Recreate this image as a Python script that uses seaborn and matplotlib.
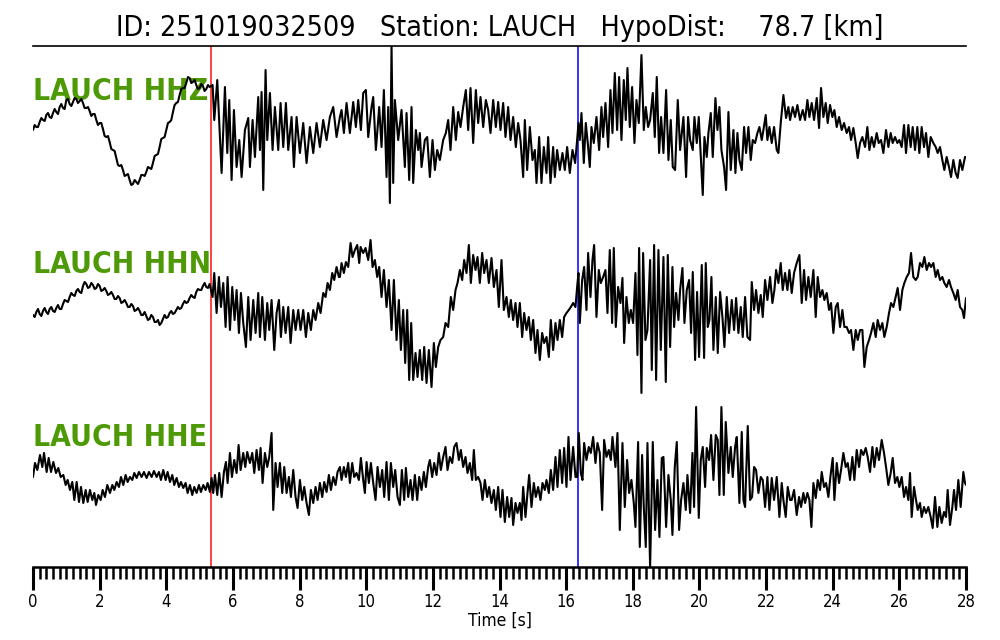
import matplotlib
matplotlib.use('Agg')
import numpy as np
import pandas as pd
import matplotlib.pyplot as plt
import seaborn as sns
from matplotlib.ticker import MultipleLocator

# ---------------------------------------------------------------
# data: (time [s], amplitude [arb. units])
# ---------------------------------------------------------------
event_id = '251019032509'
station = 'LAUCH'
hypo_dist = 78.7
p_pick = 5.34     # red pick
s_pick = 16.35    # blue pick
channels = ['HHZ', 'HHN', 'HHE']

hhz = [(0.0,0),(0.1,3),(0.2,8),(0.3,10),(0.4,15),(0.5,13),(0.6,17),(0.7,18),(0.8,23),(0.9,22),
       (1.0,30),(1.1,26),(1.2,28),(1.3,31),(1.4,29),(1.5,27),(1.6,22),(1.7,19),(1.8,16),(1.9,10),
       (2.0,7),(2.1,1),(2.2,-7),(2.3,-12),(2.4,-20),(2.5,-28),(2.6,-36),(2.7,-40),(2.8,-45),(2.9,-50),
       (3.0,-54),(3.1,-52),(3.2,-50),(3.3,-45),(3.4,-42),(3.5,-38),(3.6,-33),(3.7,-25),(3.8,-17),(3.9,-8),
       (4.0,0),(4.1,8),(4.2,18),(4.3,27),(4.4,35),(4.5,42),(4.6,47),(4.7,52),(4.8,48),(4.9,45),
       (5.0,42),(5.1,44),(5.2,41),(5.3,43),
       (5.39,45),(5.44,10),(5.53,50),(5.66,-43),(5.76,43),(5.83,-23),(5.89,30),(5.96,-50),(6.03,20),
       (6.11,-37),(6.19,-10),(6.26,-47),(6.36,0),(6.46,12),(6.51,-37),(6.59,10),(6.66,-27),(6.76,33),
       (6.81,-20),(6.86,38),(6.91,-60),(6.98,60),(7.03,-10),(7.11,37),(7.19,-20),(7.26,23),(7.36,-20),
       (7.43,27),(7.51,-17),(7.59,27),(7.66,-20),(7.76,13),(7.83,-37),(7.91,13),(8.01,-23),(8.11,7),
       (8.21,-33),(8.31,3),(8.41,-23),(8.51,7),(8.61,-17),(8.71,10),(8.81,-10),(8.91,13),(9.01,23),
       (9.11,-7),(9.21,13),
       (9.26,20),(9.33,-3),(9.41,27),(9.51,-3),(9.61,28),(9.69,3),(9.76,30),(9.84,0),(9.91,37),(9.99,40),
       (10.06,-7),(10.16,23),(10.21,33),(10.29,-20),(10.39,23),(10.46,-17),(10.53,40),(10.61,-47),
       (10.66,23),(10.71,-73),(10.76,85),(10.81,-53),(10.86,30),(10.91,10),(10.96,-10),(11.06,20),
       (11.16,-37),(11.21,17),(11.29,-50),(11.36,23),(11.41,-53),(11.49,0),(11.56,-20),(11.61,-3),
       (11.66,-37),(11.76,-10),(11.83,-7),(11.91,-47),(11.99,-10),(12.06,-40),(12.13,-20),(12.21,-30),
       (12.31,-10),(12.39,-3),(12.46,10),(12.53,-20),(12.61,23),(12.69,-10),(12.76,18),(12.83,3),
       (12.91,23),(12.99,40),(13.06,0),(13.13,42),(13.21,-13),(13.29,40),(13.36,7),(13.43,33),(13.51,3),
       (13.59,30),(13.66,20),(13.73,-3),(13.81,30),(13.89,3),(13.96,28),(14.03,0),(14.11,27),(14.18,-7),
       (14.26,23),(14.33,-10),(14.41,13),(14.49,-17),(14.56,7),(14.63,-10),(14.71,-47),(14.76,10),
       (14.83,-40),(14.91,3),(14.99,-30),(15.06,-20),(15.11,-53),(15.19,-7),(15.26,-53),(15.33,-17),
       (15.41,-43),(15.46,-7),(15.53,-53),(15.61,-17),(15.66,-47),(15.73,-20),(15.81,-40),(15.89,-23),
       (15.96,-40),(16.03,-17),(16.11,-43),(16.19,-20),(16.27,-33),(16.33,-10),(16.37,7),(16.41,-10),
       (16.46,17),(16.53,-33),(16.59,7),(16.66,-17),(16.71,-37),(16.76,3),(16.83,-13),(16.91,13),
       (16.99,-20),(17.06,23),(17.11,-7),(17.18,27),(17.26,-17),(17.33,40),(17.39,-3),(17.46,57),
       (17.53,0),(17.59,53),(17.66,-10),(17.73,50),(17.79,10),(17.84,62),(17.91,3),(17.98,43),(18.05,-13),
       (18.11,30),(18.18,7),(18.26,75),(18.33,0),(18.39,23),(18.46,3),
       (18.52,10),(18.60,37),(18.66,-7),(18.72,53),(18.79,-23),(18.85,13),(18.92,-23),(19.00,40),
       (19.07,-30),(19.14,10),(19.20,-37),(19.27,-40),(19.35,30),(19.42,-20),(19.47,-3),(19.52,13),
       (19.60,-47),(19.66,13),(19.72,-10),(19.80,-20),(19.85,13),(19.92,-13),(19.98,13),(20.05,-33),
       (20.10,-65),(20.15,-7),(20.22,-27),(20.27,-3),(20.34,17),(20.40,-27),(20.48,32),(20.54,0),
       (20.60,23),(20.66,-20),(20.74,-37),(20.80,-60),(20.87,18),(20.94,-40),(21.02,0),(21.08,-43),
       (21.14,-3),(21.20,-30),(21.27,-40),(21.34,3),(21.40,-23),(21.47,3),(21.54,-30),(21.60,-10),
       (21.67,-13),(21.74,-3),(21.80,3),(21.87,-10),(21.92,0),(21.99,15),(22.04,-10),(22.10,3),
       (22.17,-13),(22.24,3),(22.32,-20),(22.37,-23),(22.44,7),(22.52,35),(22.60,12),(22.67,23),
       (22.72,10),(22.80,23),(22.87,13),(22.94,25),(23.02,10),(23.10,20),(23.17,10),(23.24,30),
       (23.30,13),(23.37,27),(23.44,10),(23.52,32),(23.59,2),(23.65,42),(23.72,13),(23.79,27),(23.85,7),
       (23.92,25),(23.99,13),(24.05,20),(24.12,3),(24.19,13),(24.27,0),(24.34,7),(24.42,-3),(24.49,3),
       (24.55,-10),(24.62,2),(24.69,-13),(24.75,-28),(24.82,-13),(24.89,-7),(24.97,-17),(25.04,3),
       (25.10,-20),(25.17,-7),(25.24,-17),(25.32,-3),(25.38,-13),(25.45,-10),(25.52,-23),(25.60,0),
       (25.67,-17),(25.74,-3),(25.80,-13),(25.87,-7),(25.94,-13),(26.00,-10),(26.07,-17),(26.14,5),
       (26.20,-23),(26.27,5),(26.34,-17),(26.40,3),(26.47,-20),(26.54,3),(26.60,-23),(26.67,3),
       (26.74,-17),(26.80,-3),(26.87,-27),(26.94,-7),(27.02,-13),(27.09,-17),(27.15,-23),(27.22,-17),
       (27.29,-30),(27.35,-40),(27.42,-27),(27.49,-37),(27.55,-47),(27.62,-30),(27.69,-43),(27.75,-48),
       (27.82,-30),(27.89,-40),(27.97,-27),(28.0,-27)]

# finer wiggles on the quiet part before the first pick
hhz_fine = [(0.05,5),(0.15,3),(0.25,12),(0.35,9),(0.45,17),(0.55,12),(0.65,21),(0.75,16),(0.85,26),
            (0.95,21),(1.05,31),(1.15,24),(1.25,32),(1.35,27),(1.45,31),(1.55,22),(1.65,23),(1.75,14),
            (1.85,16),(1.95,5),(2.05,7),(2.15,-6),(2.25,-6),(2.35,-19),(2.45,-21),(2.55,-35),(2.65,-35),
            (2.75,-46),(2.85,-44),(2.95,-55),(3.05,-50),(3.15,-54),(3.25,-45),(3.35,-46),(3.45,-37),
            (3.55,-39),(3.65,-26),(3.75,-24),(3.85,-9),(3.95,-7),(4.05,7),(4.15,10),(4.25,25),(4.35,28),
            (4.45,41),(4.55,42),(4.65,53),(4.75,47),(4.85,50),(4.95,41),(5.05,46),(5.15,39),(5.25,45)]

hhn = [(0.0,-5),(0.1,-2),(0.2,-4),(0.3,-1),(0.4,-2),(0.5,1),(0.6,-1),(0.7,2),(0.8,1),(0.9,6),
       (1.0,9),(1.1,13),(1.2,15),(1.3,19),(1.4,18),(1.5,24),(1.6,26),(1.7,23),(1.8,25),(1.9,22),
       (2.0,24),(2.1,20),(2.2,19),(2.3,16),(2.4,15),(2.5,11),(2.6,12),(2.7,8),(2.8,7),(2.9,3),
       (3.0,4),(3.1,0),(3.2,-1),(3.3,-5),(3.4,-6),(3.5,-9),(3.6,-7),(3.7,-12),(3.8,-15),(3.9,-9),
       (4.0,-8),(4.1,-3),(4.2,-4),(4.3,0),(4.4,1),(4.5,6),(4.6,7),(4.7,12),(4.8,13),(4.9,18),
       (5.0,20),(5.1,24),(5.2,23),(5.3,26),
       (5.39,13),(5.44,37),(5.51,-3),(5.58,33),(5.64,3),(5.71,27),(5.78,-17),(5.84,33),(5.91,-20),
       (5.98,23),(6.05,-10),(6.11,20),(6.18,-23),(6.24,17),(6.31,-13),(6.39,-37),(6.46,13),(6.53,-30),
       (6.61,10),(6.68,-23),(6.76,17),(6.81,-27),(6.88,13),(6.96,-30),(7.03,7),(7.09,-20),(7.16,10),
       (7.24,-40),(7.31,-3),(7.38,10),(7.44,-27),(7.51,3),(7.58,-23),(7.66,3),(7.73,-33),(7.81,0),
       (7.88,-20),(7.96,0),(8.03,-20),(8.11,0),(8.19,-27),(8.26,-3),(8.34,-20),(8.41,0),(8.48,-10),
       (8.56,7),(8.63,-3),(8.71,17),(8.78,13),(8.84,27),(8.91,20),(8.98,37),(9.04,30),(9.11,43),(9.18,33),
       (9.21,33),(9.26,47),(9.33,37),(9.39,48),(9.46,43),(9.53,67),(9.59,53),(9.66,60),(9.73,65),
       (9.79,47),(9.83,63),(9.91,57),(9.98,62),(10.06,50),(10.13,70),(10.19,43),(10.26,50),(10.33,33),
       (10.39,43),(10.46,13),(10.53,40),(10.61,3),(10.68,30),(10.76,-20),(10.83,30),(10.91,-30),
       (10.98,10),(11.04,-40),(11.11,0),(11.17,-53),(11.23,0),(11.29,-70),(11.35,-13),(11.41,-70),
       (11.48,-43),(11.54,-67),(11.61,-40),(11.68,-70),(11.74,-37),(11.81,-73),(11.88,-40),(11.96,-77),
       (12.03,-33),(12.09,-57),(12.16,-37),(12.23,-30),(12.31,-27),(12.38,-13),(12.46,-17),(12.54,13),
       (12.61,0),(12.68,20),(12.74,27),(12.81,40),(12.88,30),(12.94,50),(13.01,37),(13.08,65),(13.14,27),
       (13.21,55),(13.28,40),(13.34,53),(13.41,27),(13.48,57),(13.54,37),(13.61,50),(13.68,27),(13.76,52),
       (13.83,23),(13.91,40),(13.98,3),(14.06,50),(14.13,0),(14.21,13),(14.28,-7),(14.34,10),(14.41,-10),
       (14.48,7),(14.54,-17),(14.61,7),(14.68,-27),(14.74,-3),(14.81,-20),(14.88,-7),(14.94,-30),
       (15.01,-10),(15.08,-43),(15.14,-20),(15.21,-50),(15.28,-23),(15.34,-33),(15.41,-27),(15.48,-47),
       (15.54,-10),(15.61,-40),(15.68,-13),(15.74,-30),(15.81,-10),(15.88,-27),(15.94,-7),(16.01,-3),
       (16.08,0),(16.14,3),(16.21,7),(16.28,3),(16.33,23),(16.37,37),(16.41,-13),(16.48,30),(16.54,43),
       (16.61,0),(16.66,57),(16.73,13),(16.79,50),(16.84,65),(16.91,-7),(16.98,40),(17.04,27),(17.11,33),
       (17.18,40),(17.24,-3),(17.31,60),(17.38,-13),(17.43,62),(17.49,-17),(17.56,23),(17.63,7),
       (17.69,32),(17.74,-33),(17.81,13),(17.88,-13),(17.94,0),(18.01,-13),(18.08,37),(18.14,-45),
       (18.19,62),(18.26,-83),(18.31,57),(18.38,-30),(18.44,-20),
       (18.52,50),(18.57,-60),(18.64,65),(18.70,-70),(18.77,60),(18.84,-40),(18.92,53),(18.99,-72),
       (19.05,55),(19.12,-37),(19.19,43),(19.24,-17),(19.30,17),(19.37,-10),(19.42,20),(19.49,42),
       (19.55,-13),(19.62,20),(19.69,30),(19.75,-23),(19.80,38),(19.87,-50),(19.93,18),(19.99,-47),
       (20.07,45),(20.14,-48),(20.19,47),(20.25,-17),(20.30,-10),(20.36,33),(20.42,-40),(20.49,13),
       (20.55,-43),(20.62,18),(20.69,-7),(20.75,-37),(20.82,13),(20.89,-23),(20.97,10),(21.04,-20),
       (21.10,12),(21.17,-23),(21.24,3),(21.30,-27),(21.37,13),(21.44,-27),(21.52,-30),(21.57,28),
       (21.64,0),(21.70,20),(21.77,-3),(21.84,15),(21.90,-7),(21.97,30),(22.04,10),(22.12,33),(22.19,7),
       (22.25,20),(22.30,40),(22.37,27),(22.44,47),(22.50,20),(22.57,37),(22.64,20),(22.70,40),(22.77,17),
       (22.84,37),(22.92,47),(23.00,55),(23.07,7),(23.14,40),(23.20,10),(23.27,33),(23.34,13),(23.42,40),
       (23.49,-7),(23.55,33),(23.62,13),(23.69,20),(23.75,10),(23.82,17),(23.89,0),(23.95,7),(24.02,-23),
       (24.09,3),(24.15,7),(24.22,-17),(24.29,0),(24.35,-17),(24.42,-17),(24.49,-23),(24.55,-20),
       (24.62,-40),(24.69,-20),(24.75,-30),(24.82,-20),(24.89,-20),(24.95,-57),(25.02,-37),(25.09,-30),
       (25.15,-23),(25.22,-13),(25.29,-27),(25.35,-10),(25.42,-20),(25.49,-13),(25.55,-27),(25.62,-17),
       (25.69,-3),(25.75,7),(25.82,3),(25.89,13),(25.95,22),(26.02,0),(26.09,20),(26.15,27),(26.22,33),
       (26.29,37),(26.35,57),(26.42,33),(26.49,30),(26.55,33),(26.62,47),(26.69,43),(26.75,53),(26.82,40),
       (26.89,47),(26.95,43),(27.02,47),(27.09,33),(27.15,40),(27.22,30),(27.29,33),(27.35,27),(27.42,23),
       (27.49,30),(27.55,23),(27.62,17),(27.69,10),(27.75,20),(27.82,3),(27.89,0),(27.94,-8),(28.0,12)]

hhn_fine = [(0.05,-7),(0.15,1),(0.25,-6),(0.35,2),(0.45,-4),(0.55,3),(0.65,-2),(0.75,5),(0.85,1),
            (0.95,10),(1.05,8),(1.15,17),(1.25,14),(1.35,21),(1.45,17),(1.55,28),(1.65,22),(1.75,27),
            (1.85,21),(1.95,26),(2.05,19),(2.15,22),(2.25,15),(2.35,18),(2.45,11),(2.55,14),(2.65,7),
            (2.75,10),(2.85,3),(2.95,6),(3.05,-1),(3.15,2),(3.25,-5),(3.35,-2),(3.45,-10),(3.55,-5),
            (3.65,-12),(3.75,-10),(3.85,-13),(3.95,-5),(4.05,-7),(4.15,-1),(4.25,-3),(4.35,3),(4.45,2),
            (4.55,9),(4.65,8),(4.75,15),(4.85,12),(4.95,21),(5.05,20),(5.15,27),(5.25,22)]

hhe = [(0.00,3),(0.06,17),(0.13,10),(0.21,25),(0.28,13),(0.33,27),(0.41,8),(0.47,22),(0.54,8),(0.61,18),
       (0.69,7),(0.76,12),(0.83,3),(0.91,5),(0.98,-5),(1.04,0),(1.11,-10),(1.18,-2),(1.24,-20),(1.31,-2),
       (1.38,-22),(1.44,-7),(1.51,-23),(1.58,-10),(1.64,-22),(1.71,-10),(1.78,-20),(1.84,-13),(1.89,-25),
       (1.96,-15),(2.03,-20),(2.09,-10),(2.16,-17),(2.23,-5),(2.31,-13),(2.38,-5),(2.44,-10),(2.51,-2),
       (2.58,-7),(2.64,3),(2.71,-5),(2.78,5),(2.84,-2),(2.91,3),(2.98,0),(3.04,7),(3.11,2),(3.18,8),
       (3.26,3),(3.33,8),(3.41,2),(3.48,8),(3.56,3),(3.63,9),(3.71,3),(3.78,8),(3.84,0),(3.91,10),
       (3.98,0),(4.04,8),(4.11,-2),(4.18,5),(4.24,-5),(4.31,2),(4.38,-7),(4.44,-2),(4.51,-8),(4.58,-3),
       (4.64,-13),(4.71,-5),(4.78,-15),(4.84,-7),(4.91,-13),(4.98,-5),(5.04,-12),(5.11,-5),(5.18,-10),
       (5.24,-3),(5.31,-12),
       (5.36,2),(5.41,-13),(5.46,5),(5.53,-15),(5.59,7),(5.66,-17),(5.73,8),(5.79,18),(5.84,-3),(5.91,27),
       (5.97,3),(6.04,20),(6.11,7),(6.17,35),(6.23,10),(6.31,27),(6.37,13),(6.43,28),(6.51,17),(6.58,27),
       (6.64,7),(6.71,30),(6.78,10),(6.83,32),(6.89,-3),(6.96,27),(7.03,13),(7.09,23),(7.16,47),(7.21,-30),
       (7.28,17),(7.34,-7),(7.41,17),(7.48,-13),(7.54,13),(7.61,-13),(7.68,3),(7.74,-17),(7.81,10),
       (7.88,-17),(7.94,-28),(8.01,0),(8.08,-20),(8.14,-7),(8.21,-23),(8.28,-35),(8.34,-10),(8.41,-23),
       (8.48,-7),(8.54,-20),(8.61,-3),(8.68,-17),(8.74,-2),(8.81,-12),(8.88,5),(8.94,-10),(9.01,3),
       (9.08,-5),(9.14,8),
       (9.21,13),(9.26,0),(9.33,13),(9.39,3),(9.46,17),(9.51,-3),(9.58,17),(9.64,3),(9.71,7),(9.78,0),
       (9.84,22),(9.91,0),(9.96,-13),(10.01,18),(10.08,-3),(10.14,17),(10.21,-3),(10.28,-20),(10.34,13),
       (10.41,-7),(10.48,10),(10.54,-17),(10.61,18),(10.68,-20),(10.74,17),(10.81,-7),(10.87,10),
       (10.94,-17),(11.01,-25),(11.07,10),(11.14,-20),(11.19,12),(11.26,-17),(11.33,0),(11.39,-20),
       (11.46,5),(11.53,-20),(11.59,3),(11.66,-10),(11.73,8),(11.79,-7),(11.86,13),(11.91,20),(11.98,3),
       (12.04,17),(12.11,5),(12.18,27),(12.24,10),(12.31,23),(12.38,33),(12.44,10),(12.51,23),(12.58,17),
       (12.64,33),(12.71,37),(12.78,20),(12.84,30),(12.91,13),(12.98,23),(13.04,7),(13.11,17),(13.18,0),
       (13.23,30),(13.29,0),(13.36,3),(13.43,-3),(13.49,-20),(13.56,0),(13.63,-17),(13.69,-7),(13.76,-23),
       (13.83,-10),(13.89,-30),(13.96,-7),(14.03,-37),(14.09,-10),(14.16,-42),(14.23,-17),(14.29,-37),
       (14.36,-18),(14.41,-45),(14.48,-23),(14.54,-33),(14.61,-23),(14.66,-40),(14.71,-7),(14.78,-37),
       (14.84,-13),(14.89,5),(14.96,-27),(15.03,-3),(15.09,-17),(15.16,-7),(15.23,-20),(15.29,-3),
       (15.36,-10),(15.41,0),(15.48,-13),(15.54,10),(15.61,-10),(15.68,23),(15.74,-7),(15.81,30),
       (15.88,-3),(15.94,32),(16.01,-7),(16.07,43),(16.13,0),(16.21,33),(16.28,3),(16.33,3),(16.38,47),
       (16.44,7),(16.49,0),(16.54,37),(16.61,20),(16.68,33),(16.74,27),(16.81,43),(16.88,17),(16.94,37),
       (17.01,27),(17.08,-30),(17.14,40),(17.21,23),(17.28,30),(17.34,20),(17.39,43),(17.48,13),(17.54,47),
       (17.61,-50),(17.69,37),(17.76,-27),(17.83,20),(17.89,-13),(17.96,0),(18.03,-23),(18.08,-47),
       (18.16,38),(18.21,-67),(18.28,25),(18.33,-27),(18.39,-67),(18.44,37),
       (18.52,-87),(18.60,38),(18.67,-50),(18.74,0),(18.80,-57),(18.87,22),(18.92,23),(19.00,-47),
       (19.07,5),(19.14,-20),(19.19,-55),(19.26,13),(19.32,38),(19.39,-50),(19.45,-20),(19.52,-3),
       (19.59,-30),(19.64,5),(19.72,-33),(19.79,27),(19.84,-27),(19.90,73),(19.98,-38),(20.04,20),
       (20.10,33),(20.17,-7),(20.22,32),(20.29,20),(20.35,45),(20.42,0),(20.49,45),(20.55,40),(20.60,-15),
       (20.66,73),(20.73,-15),(20.79,58),(20.87,7),(20.94,33),(21.00,3),(21.07,33),(21.12,43),(21.20,-23),
       (21.27,48),(21.32,-20),(21.37,-27),(21.45,54),(21.52,-20),(21.58,-17),(21.64,13),(21.70,10),
       (21.77,-13),(21.84,3),(21.90,0),(21.97,-27),(22.04,3),(22.10,-30),(22.17,2),(22.24,-20),(22.32,3),
       (22.40,-37),(22.47,-3),(22.52,-20),(22.59,-37),(22.65,-7),(22.72,-20),(22.77,-20),(22.84,-10),
       (22.92,-35),(22.99,-17),(23.05,-27),(23.12,-13),(23.17,-23),(23.24,-13),(23.30,-20),(23.36,-47),
       (23.42,-3),(23.49,-18),(23.55,0),(23.62,-10),(23.67,8),(23.74,-7),(23.80,-3),(23.87,-17),(23.93,3),
       (24.00,22),(24.05,-20),(24.12,17),(24.19,-3),(24.25,10),(24.32,27),(24.39,13),(24.45,17),(24.52,0),
       (24.59,23),(24.65,0),(24.72,30),(24.79,13),(24.85,30),(24.92,25),(24.99,32),(25.05,23),(25.12,8),
       (25.19,33),(25.25,13),(25.32,32),(25.39,20),(25.47,40),(25.54,27),(25.60,13),(25.67,-5),(25.74,7),
       (25.80,22),(25.87,-3),(25.94,3),(26.00,-7),(26.07,3),(26.14,-17),(26.20,-7),(26.27,-20),(26.32,7),
       (26.37,-37),(26.44,-7),(26.50,-20),(26.55,-30),(26.62,-23),(26.67,-37),(26.74,-27),(26.80,-33),
       (26.87,-27),(26.94,-37),(27.00,-48),(27.07,-17),(27.14,-47),(27.20,-27),(27.27,-43),(27.34,-32),
       (27.40,-37),(27.45,-10),(27.52,-45),(27.59,-27),(27.64,-10),(27.70,-30),(27.77,0),(27.84,-27),
       (27.92,8),(27.97,-3),(28.0,-5)]

# -------------------------
# build long table + offsets
# -------------------------
traces = {'HHZ': hhz + hhz_fine, 'HHN': hhn + hhn_fine, 'HHE': hhe}
offsets = {'HHZ': 437, 'HHN': 257, 'HHE': 87}
label_lift = {'HHZ': 39, 'HHN': 45, 'HHE': 42}

frames = []
for ch in channels:
    t, a = zip(*traces[ch])
    frames.append(pd.DataFrame({'time': t, 'amp': a, 'channel': ch}))
df = pd.concat(frames, ignore_index=True)
df['y'] = df['amp'] + df['channel'].map(offsets)

# -------------------------
# plot
# -------------------------
sns.set_style('white')
plt.rcParams['font.family'] = ['DejaVu Sans']
plt.rcParams['font.stretch'] = 'condensed'
plt.rcParams['text.color'] = 'black'
plt.rcParams['axes.labelcolor'] = 'black'
plt.rcParams['xtick.color'] = 'black'

fig = plt.figure(figsize=(10, 6.4), dpi=100)
ax = fig.add_axes([0.033, 0.1141, 0.933, 0.814])

ax.axvline(p_pick, color='#ff2020', lw=1.2, zorder=1)
ax.axvline(s_pick, color='#1010ff', lw=1.2, zorder=1)

# station/channel labels sit under the traces
for ch in channels:
    ax.text(0.0, offsets[ch] + label_lift[ch], f'{station} {ch}', color='#4e9a06',
            fontsize=21.5, fontweight='bold', ha='left', va='center', zorder=2)

sns.lineplot(data=df, x='time', y='y', units='channel', estimator=None,
             color='black', lw=1.5, ax=ax, zorder=3)

ax.set_xlim(0, 28)
ax.set_ylim(0, 521)
ax.set_yticks([])
ax.set_ylabel('')
ax.set_xticks(np.arange(0, 29, 2))
ax.xaxis.set_minor_locator(MultipleLocator(0.2))
ax.tick_params(axis='x', which='major', direction='out', length=16.5, width=2.2,
               labelsize=12, pad=2, bottom=True, colors='black')
ax.tick_params(axis='x', which='minor', direction='out', length=8.5, width=1.8,
               bottom=True, colors='black')
ax.set_xlabel('Time [s]', fontsize=12.5, labelpad=1)

for side in ['left', 'right']:
    ax.spines[side].set_visible(False)
ax.spines['top'].set_linewidth(1.2)
ax.spines['bottom'].set_linewidth(1.8)
ax.spines['top'].set_color('black')
ax.spines['bottom'].set_color('black')

ax.set_title(f'ID: {event_id}   Station: {station}   HypoDist:    {hypo_dist} [km]',
             fontsize=20.5, pad=7, color='black')

fig.savefig('out.png', dpi=100)
